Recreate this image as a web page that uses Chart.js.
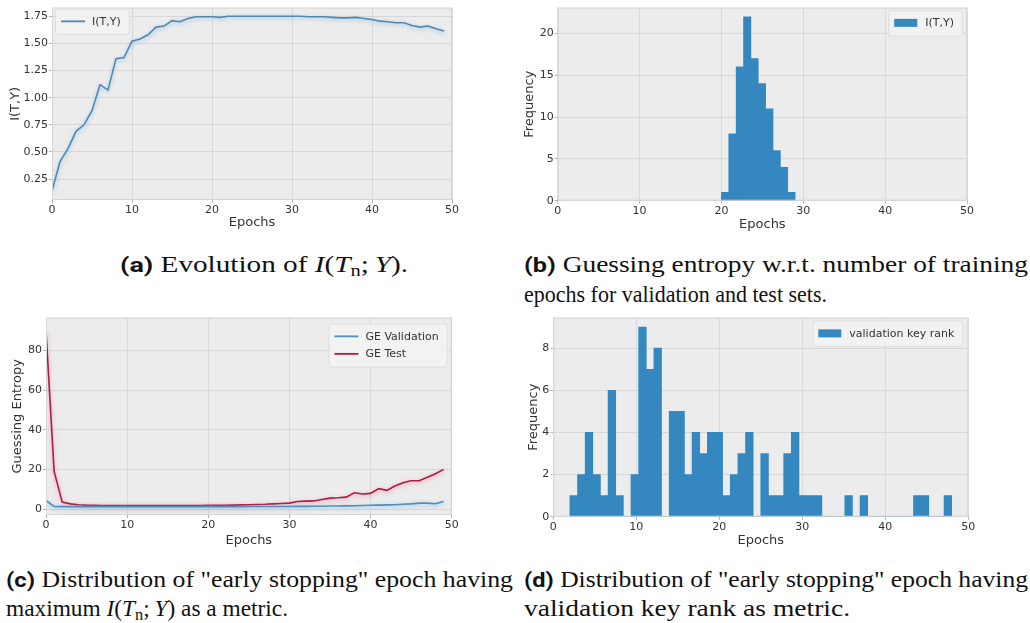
<!DOCTYPE html>
<html>
<head>
<meta charset="utf-8">
<script src="https://cdn.jsdelivr.net/npm/chart.js@4.4.1/dist/chart.umd.min.js"></script>
<style>
  html, body { margin: 0; padding: 0; background: #fff; }
  body { width: 1030px; height: 623px; position: relative; overflow: hidden; }
  .box { position: absolute; }
  .cap { position: absolute; white-space: nowrap; font-family: "Liberation Serif", Tinos, "Times New Roman", Times, serif; font-size: 22.5px; line-height: 1.2; color: #111; transform-origin: 0 50%; }
  .cap b { font-family: Roboto, "Open Sans", "Liberation Sans", Arial, sans-serif; font-weight: bold; font-size: 0.92em; }
  .cap sub { font-size: 0.7em; vertical-align: -0.25em; line-height: 0; }
</style>
</head>
<body>
<div class="box" style="left:0;top:0;width:460px;height:230px"><canvas id="graficoMI"></canvas></div>
<div class="box" style="left:510px;top:0;width:520px;height:232px"><canvas id="graficoHistMI"></canvas></div>
<div class="box" style="left:0;top:310px;width:460px;height:238px"><canvas id="graficoGE"></canvas></div>
<div class="box" style="left:510px;top:310px;width:520px;height:238px"><canvas id="graficoHistKR"></canvas></div>

<div class="cap" data-x="120" data-y="264" data-w="288"><b>(a)</b> Evolution of <i>I</i>(<i>T</i><sub>n</sub>;&thinsp;<i>Y</i>).</div>
<div class="cap" data-x="524" data-y="264" data-w="504"><b>(b)</b> Guessing entropy w.r.t. number of training</div>
<div class="cap" data-x="524" data-y="294" data-w="303">epochs for validation and test sets.</div>
<div class="cap" data-x="6" data-y="579" data-w="507"><b>(c)</b> Distribution of "early stopping" epoch having</div>
<div class="cap" data-x="6" data-y="608" data-w="282">maximum <i>I</i>(<i>T</i><sub>n</sub>;&thinsp;<i>Y</i>) as a metric.</div>
<div class="cap" data-x="524" data-y="579" data-w="504"><b>(d)</b> Distribution of "early stopping" epoch having</div>
<div class="cap" data-x="524" data-y="608" data-w="326">validation key rank as metric.</div>

<script>
// epochs 0..49
const epochs = [0, 1, 2, 3, 4, 5, 6, 7, 8, 9, 10, 11, 12, 13, 14, 15, 16, 17, 18, 19,
    20, 21, 22, 23, 24, 25, 26, 27, 28, 29, 30, 31, 32, 33, 34, 35, 36, 37, 38, 39,
    40, 41, 42, 43, 44, 45, 46, 47, 48, 49];

// (a) I(T,Y) por epoca
const mutualInfo = [0.14, 0.41, 0.53, 0.69, 0.75, 0.88, 1.12, 1.07, 1.36, 1.37,
    1.52, 1.54, 1.58, 1.65, 1.66, 1.71, 1.70, 1.73, 1.745, 1.745,
    1.745, 1.74, 1.75, 1.75, 1.75, 1.75, 1.75, 1.75, 1.75, 1.75,
    1.75, 1.75, 1.745, 1.745, 1.745, 1.74, 1.735, 1.735, 1.74, 1.73,
    1.72, 1.705, 1.70, 1.69, 1.69, 1.665, 1.65, 1.66, 1.635, 1.615];

// (b) histograma I(T,Y)
const binsMI = [20, 20.9, 21.8, 22.7, 23.6, 24.5, 25.4, 26.3, 27.2, 28.1];
const countsMI = [1, 8, 16, 22, 17, 14, 11, 6, 4, 1];
const binWidthMI = 0.9;

// (c) guessing entropy
const geValidation = [4.3, 1.3, 1.2, 1.2, 1.2, 1.2, 1.2, 1.2, 1.2, 1.2,
    1.2, 1.2, 1.2, 1.2, 1.2, 1.2, 1.2, 1.2, 1.2, 1.2,
    1.2, 1.2, 1.2, 1.2, 1.2, 1.25, 1.25, 1.3, 1.3, 1.3,
    1.3, 1.35, 1.35, 1.4, 1.4, 1.5, 1.5, 1.6, 1.7, 1.8,
    1.9, 2.0, 2.1, 2.2, 2.4, 2.6, 3.0, 3.0, 2.7, 3.8];
const geTest = [90, 19, 3.5, 2.6, 2.2, 2.0, 1.9, 1.8, 1.8, 1.8,
    1.8, 1.8, 1.8, 1.8, 1.8, 1.8, 1.8, 1.8, 1.8, 1.8,
    1.85, 1.9, 1.9, 2.0, 2.1, 2.2, 2.3, 2.4, 2.6, 2.8,
    3.0, 3.8, 4.0, 4.1, 4.8, 5.5, 5.7, 6.0, 8.2, 7.6,
    7.9, 10.3, 9.4, 11.6, 13.3, 14.3, 14.3, 16.0, 17.8, 20.0];

// (d) histograma validation key rank
const binsKR = [2.00, 2.92, 3.84, 4.76, 5.68, 6.60, 7.52, 8.44, 9.36, 10.28,
    11.20, 12.12, 13.04, 13.96, 14.88, 15.80, 16.72, 17.64, 18.56, 19.48,
    20.40, 21.32, 22.24, 23.16, 24.08, 25.00, 25.92, 26.84, 27.76, 28.68,
    29.60, 30.52, 31.44, 32.36, 33.28, 34.20, 35.12, 36.04, 36.96, 37.88,
    38.80, 39.72, 40.64, 41.56, 42.48, 43.40, 44.32, 45.24, 46.16, 47.08];
const countsKR = [1, 2, 4, 2, 1, 6, 1, 0, 2, 9,
    7, 8, 0, 5, 5, 2, 4, 3, 4, 4,
    1, 2, 3, 4, 0, 3, 1, 1, 3, 4,
    1, 1, 1, 0, 0, 0, 1, 0, 1, 0,
    0, 0, 0, 0, 0, 1, 1, 0, 0, 1];
const binWidthKR = 0.92;

const xTicks = [0, 10, 20, 30, 40, 50];
const yTicksMI = [0.25, 0.50, 0.75, 1.00, 1.25, 1.50, 1.75];
const yTicksHistMI = [0, 5, 10, 15, 20];
const yTicksGE = [0, 20, 40, 60, 80];
const yTicksHistKR = [0, 2, 4, 6, 8];

const textColor = '#333333';
const gridColor = '#d3d3d3';
const barBlue = '#3487bf';

Chart.defaults.font.family = '"DejaVu Sans", sans-serif';
Chart.defaults.animation = false;

// fondo gris y marco del area de dibujo
const plotFrame = {
    id: 'plotFrame',
    beforeDraw(chart) {
        const { ctx, chartArea: ca } = chart;
        ctx.save();
        ctx.fillStyle = '#ececec';
        ctx.fillRect(ca.left, ca.top, ca.width, ca.height);
        ctx.restore();
    },
    afterDatasetsDraw(chart) {
        const { ctx, chartArea: ca } = chart;
        ctx.save();
        ctx.strokeStyle = '#d6d6d6';
        ctx.lineWidth = 1;
        ctx.strokeRect(ca.left + 0.5, ca.top + 0.5, ca.width - 1, ca.height - 1);
        ctx.restore();
    }
};

// halo suave alrededor de las lineas
const glow = {
    id: 'glow',
    beforeDatasetDraw(chart, args) {
        const ds = chart.data.datasets[args.index];
        if (!ds.glowColor) return;
        const ctx = chart.ctx;
        ctx.save();
        ctx.shadowColor = ds.glowColor;
        ctx.shadowBlur = 4;
        ctx.shadowOffsetY = 1.5;
    },
    afterDatasetDraw(chart, args) {
        const ds = chart.data.datasets[args.index];
        if (!ds.glowColor) return;
        chart.ctx.restore();
    }
};

// leyenda dentro del grafico, estilo matplotlib
const boxLegend = {
    id: 'boxLegend',
    afterDraw(chart, args, opts) {
        const { ctx, chartArea: ca } = chart;
        const items = chart.data.datasets;
        ctx.save();
        ctx.font = '11px "DejaVu Sans"';
        const textW = Math.max(...items.map(d => ctx.measureText(d.label).width));
        const padX = 6, padY = 4, sample = 24, gap = 7, rowH = 17.5;
        const w = padX + sample + gap + textW + padX + 2;
        const h = padY * 2 + rowH * items.length;
        const x = opts.side === 'left' ? ca.left + opts.dx : ca.right - opts.dx - w;
        const y = ca.top + opts.dy;
        ctx.beginPath();
        ctx.roundRect(x + 0.5, y + 0.5, w, h, 3);
        ctx.fillStyle = 'rgba(243,243,243,0.85)';
        ctx.fill();
        ctx.strokeStyle = '#dedede';
        ctx.lineWidth = 1;
        ctx.stroke();
        items.forEach((d, i) => {
            const cy = y + padY + rowH * (i + 0.5);
            const sx = x + padX;
            if (chart.config.type === 'line') {
                ctx.strokeStyle = d.borderColor;
                ctx.lineWidth = 1.8;
                ctx.beginPath();
                ctx.moveTo(sx, cy);
                ctx.lineTo(sx + sample, cy);
                ctx.stroke();
            } else {
                ctx.fillStyle = d.backgroundColor;
                ctx.fillRect(sx, cy - 4, sample - 1, 8);
            }
            ctx.fillStyle = textColor;
            ctx.textBaseline = 'middle';
            ctx.fillText(d.label, sx + sample + gap, cy + 0.5);
        });
        ctx.restore();
    }
};

function ejeX(height) {
    return {
        type: 'linear',
        min: 0,
        max: 50,
        offset: false,
        afterBuildTicks: s => { s.ticks = xTicks.map(v => ({ value: v })); },
        afterFit: s => { s.height = height; },
        grid: { color: gridColor, lineWidth: 0.8, tickLength: 3, tickColor: '#a0a0a0', offset: false },
        border: { display: false },
        ticks: { color: textColor, font: { size: 11 }, padding: 1, maxRotation: 0, autoSkip: false },
        title: { display: true, text: 'Epochs', color: textColor, font: { size: 13 }, padding: 0 }
    };
}

function ejeY(ticks, min, max, width, text, pad, fmt) {
    return {
        min: min,
        max: max,
        afterBuildTicks: s => { s.ticks = ticks.map(v => ({ value: v })); },
        afterFit: s => { s.width = width; },
        grid: { color: gridColor, lineWidth: 0.8, tickLength: 3, tickColor: '#a0a0a0' },
        border: { display: false },
        ticks: { color: textColor, font: { size: 11 }, padding: 1, callback: fmt || (v => v) },
        title: { display: true, text: text, color: textColor, font: { size: 13 }, padding: { top: pad, bottom: 0 } }
    };
}

const basePlugins = { legend: { display: false }, tooltip: { enabled: false } };

// (a) evolucion de I(T,Y)
new Chart(document.getElementById('graficoMI').getContext('2d'), {
    type: 'line',
    data: {
        datasets: [{
            label: 'I(T,Y)',
            data: epochs.map((e, i) => ({ x: e, y: mutualInfo[i] })),
            borderColor: '#4f89b3',
            glowColor: 'rgba(120,180,225,0.75)',
            borderWidth: 1.6,
            pointRadius: 0,
            tension: 0
        }]
    },
    options: {
        responsive: true,
        maintainAspectRatio: false,
        layout: { padding: { left: 0, right: 8, top: 7, bottom: 0 } },
        scales: {
            x: ejeX(30),
            y: ejeY(yTicksMI, 0.057, 1.83, 52, 'I(T,Y)', 8, v => v.toFixed(2))
        },
        plugins: Object.assign({ boxLegend: { side: 'left', dx: 3, dy: 1 } }, basePlugins)
    },
    plugins: [plotFrame, glow, boxLegend]
});

// (b) histograma de I(T,Y)
new Chart(document.getElementById('graficoHistMI').getContext('2d'), {
    type: 'bar',
    data: {
        datasets: [{
            label: 'I(T,Y)',
            data: binsMI.map((b, i) => ({ x: b + binWidthMI / 2, y: countsMI[i] })),
            backgroundColor: barBlue,
            borderWidth: 0,
            barPercentage: 1,
            categoryPercentage: 1
        }]
    },
    options: {
        responsive: true,
        maintainAspectRatio: false,
        layout: { padding: { left: 0, right: 63, top: 2, bottom: 0 } },
        scales: {
            x: ejeX(31.3),
            y: ejeY(yTicksHistMI, 0, 23.1, 47.7, 'Frequency', 12)
        },
        plugins: Object.assign({ boxLegend: { side: 'right', dx: 5, dy: 2.5 } }, basePlugins)
    },
    plugins: [plotFrame, boxLegend]
});

// (c) guessing entropy validacion vs test
new Chart(document.getElementById('graficoGE').getContext('2d'), {
    type: 'line',
    data: {
        datasets: [
            {
                label: 'GE Validation',
                data: epochs.map((e, i) => ({ x: e, y: geValidation[i] })),
                borderColor: '#4f8fbd',
                glowColor: 'rgba(120,185,230,0.85)',
                borderWidth: 1.6,
                pointRadius: 0,
                tension: 0
            },
            {
                label: 'GE Test',
                data: epochs.map((e, i) => ({ x: e, y: geTest[i] })),
                borderColor: '#b01a40',
                glowColor: 'rgba(230,120,150,0.7)',
                borderWidth: 1.6,
                pointRadius: 0,
                tension: 0
            }
        ]
    },
    options: {
        responsive: true,
        maintainAspectRatio: false,
        layout: { padding: { left: 0, right: 8.3, top: 5, bottom: 0 } },
        scales: {
            x: ejeX(33),
            y: ejeY(yTicksGE, -3, 96.5, 46, 'Guessing Entropy', 10)
        },
        plugins: Object.assign({ boxLegend: { side: 'right', dx: 5, dy: 6 } }, basePlugins)
    },
    plugins: [plotFrame, glow, boxLegend]
});

// (d) histograma validation key rank
new Chart(document.getElementById('graficoHistKR').getContext('2d'), {
    type: 'bar',
    data: {
        datasets: [{
            label: 'validation key rank',
            data: binsKR.map((b, i) => ({ x: b + binWidthKR / 2, y: countsKR[i] })),
            backgroundColor: barBlue,
            borderWidth: 0,
            barPercentage: 1,
            categoryPercentage: 1
        }]
    },
    options: {
        responsive: true,
        maintainAspectRatio: false,
        layout: { padding: { left: 0, right: 61.7, top: 5, bottom: 0 } },
        scales: {
            x: ejeX(31.3),
            y: ejeY(yTicksHistKR, 0, 9.45, 43.3, 'Frequency', 16)
        },
        plugins: Object.assign({ boxLegend: { side: 'right', dx: 6, dy: 3 } }, basePlugins)
    },
    plugins: [plotFrame, boxLegend]
});

// ajustar los pies de figura al ancho del original
document.querySelectorAll('.cap').forEach(el => {
    const r = el.getBoundingClientRect();
    el.style.left = el.dataset.x + 'px';
    el.style.top = (el.dataset.y - r.height / 2) + 'px';
    el.style.transform = 'scaleX(' + (el.dataset.w / r.width) + ')';
});
</script>
</body>
</html>
